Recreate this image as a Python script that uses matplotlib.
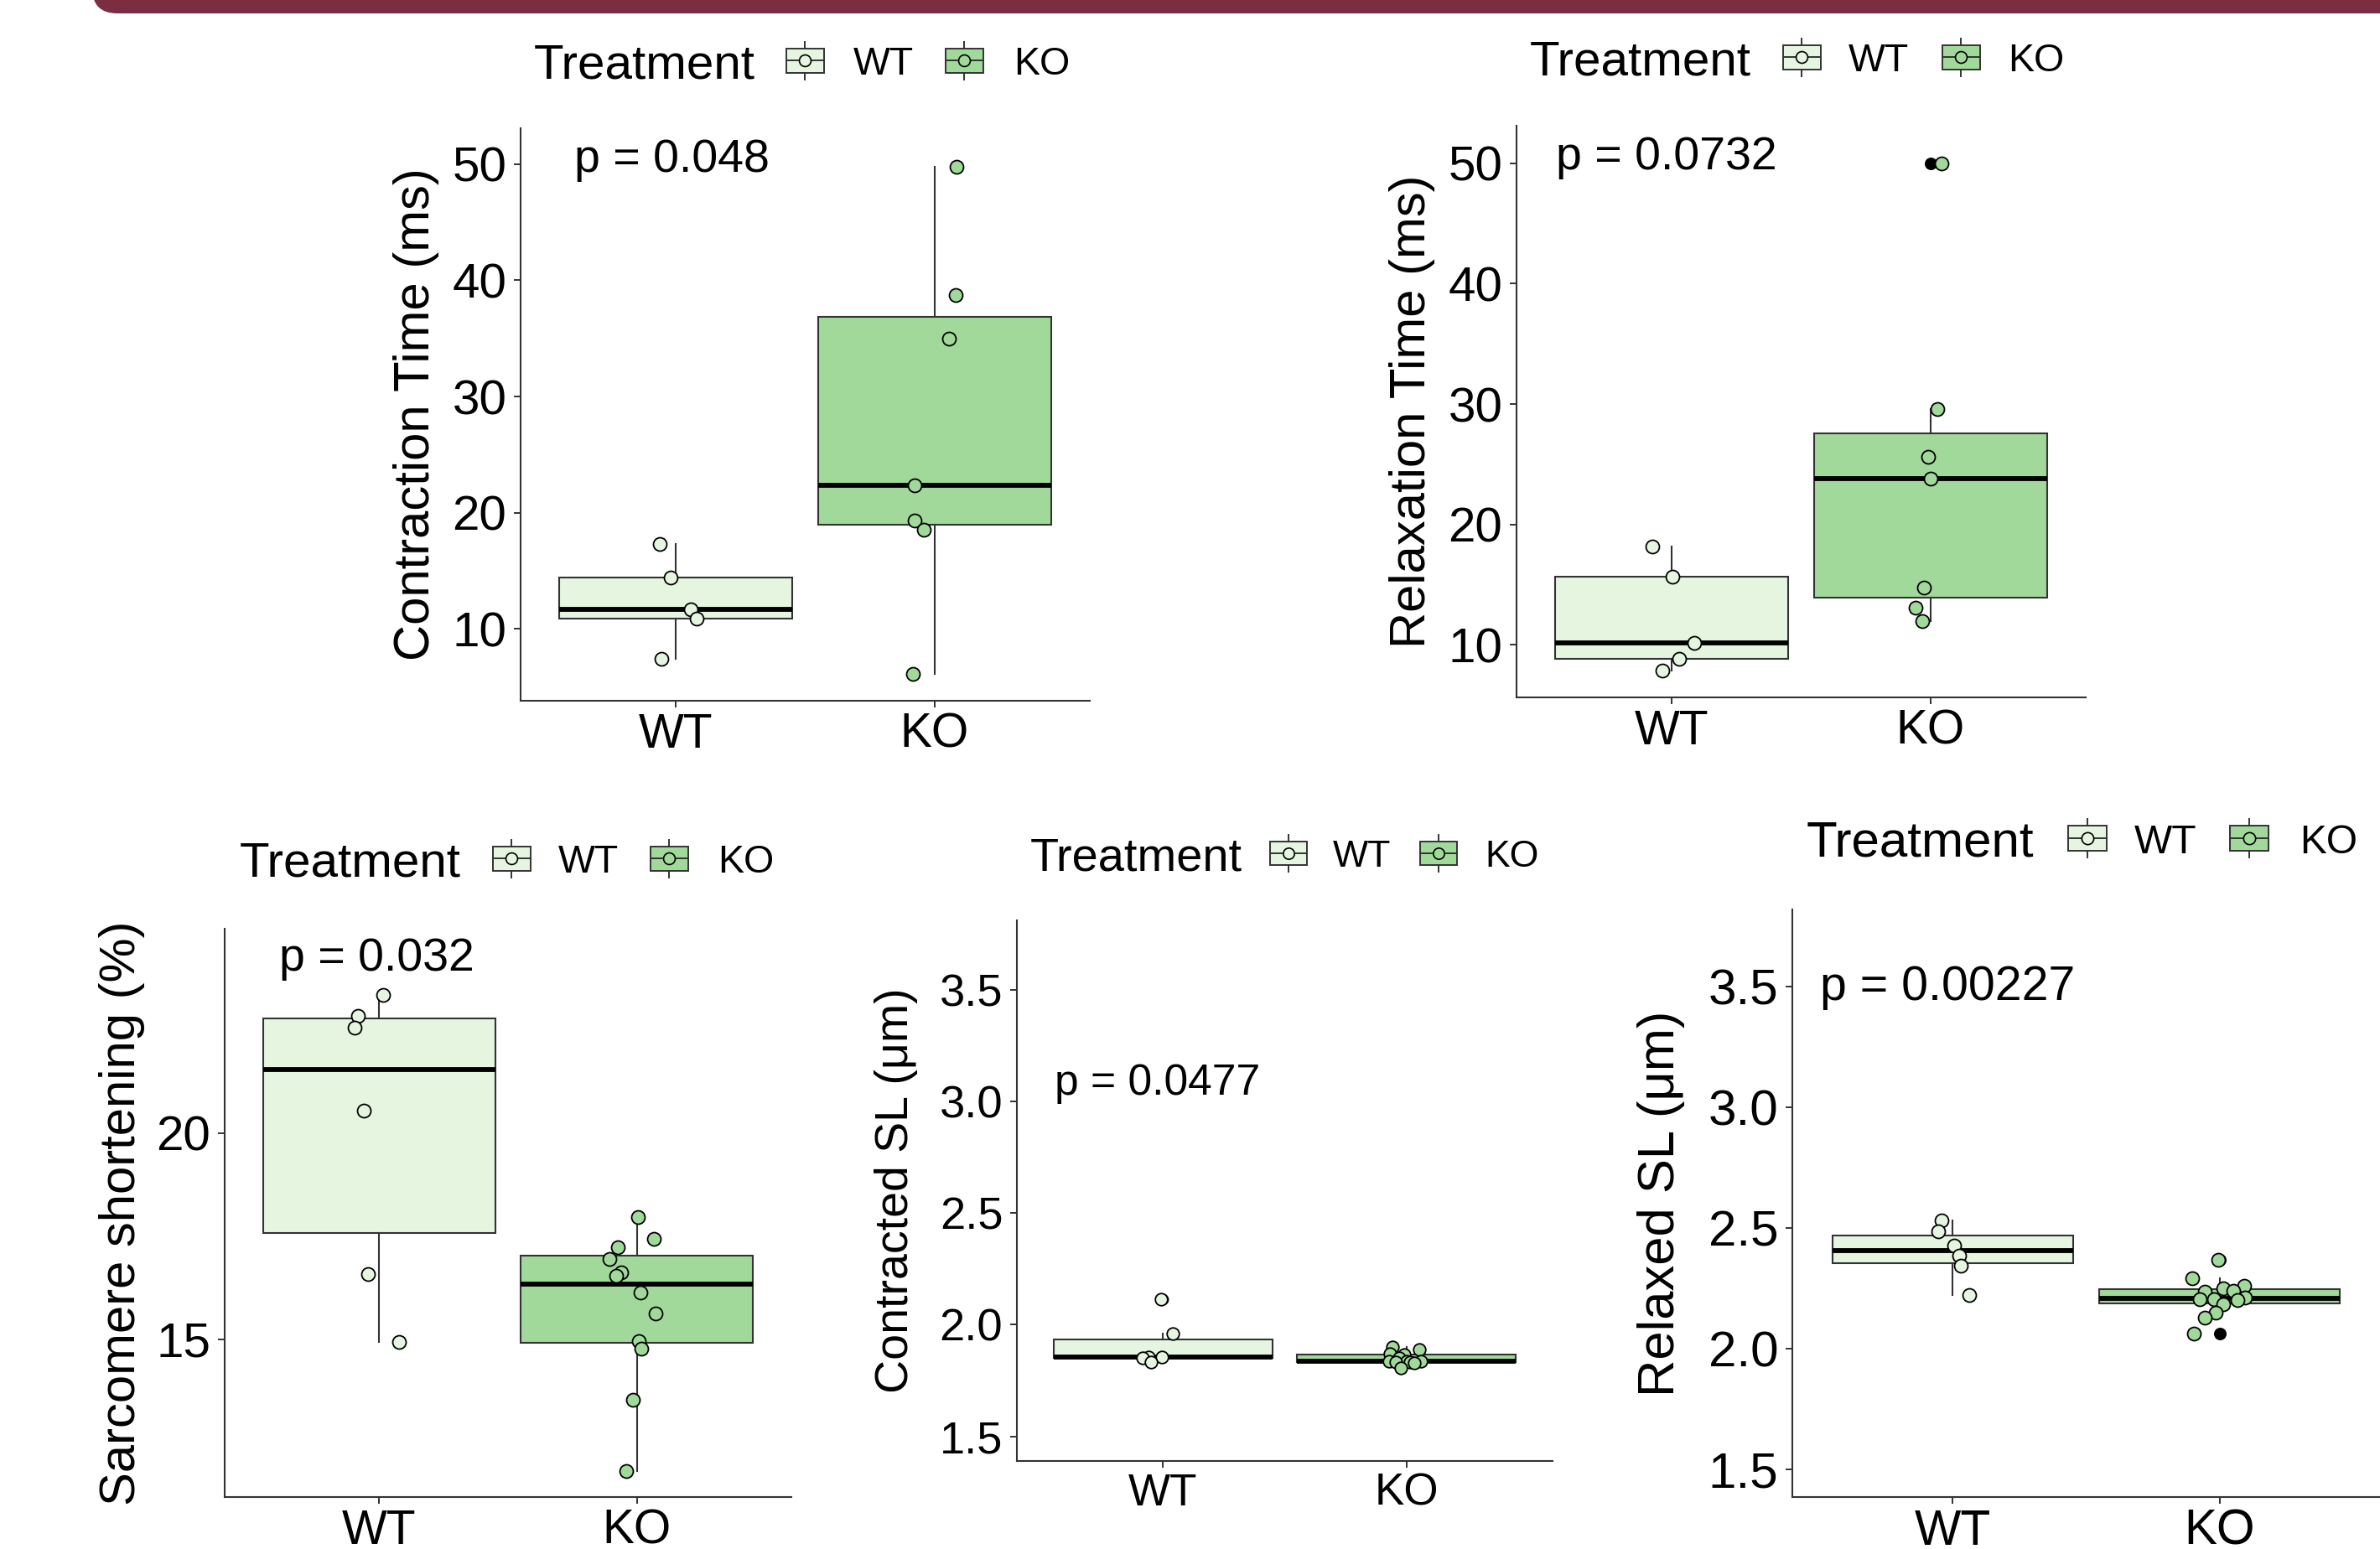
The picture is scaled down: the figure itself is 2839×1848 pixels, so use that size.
import matplotlib
matplotlib.use("Agg")
import matplotlib.pyplot as plt
from matplotlib.patches import Rectangle, FancyBboxPatch

plt.rcParams['font.family'] = ['Liberation Sans', 'DejaVu Sans']

W, H = 2839, 1848

# ---- values ----
groups = ["WT", "KO"]
fills = ["#e5f5e0", "#a1d99b"]

# contraction time (ms)
ct_wt = [17.3, 14.4, 11.7, 10.9, 7.4]
ct_ko = [49.8, 38.7, 35.0, 22.35, 19.3, 18.55, 6.1]
ct_wt_jit = [-0.063, -0.02, 0.059, 0.079, -0.057]
ct_ko_jit = [0.084, 0.08, 0.055, -0.077, -0.077, -0.043, -0.083]

# relaxation time (ms)
rt_wt = [18.14, 15.7, 10.2, 8.87, 7.86]
rt_ko = [50.0, 29.6, 25.6, 23.8, 14.76, 13.1, 12.0]
rt_wt_jit = [-0.075, 0.004, 0.086, 0.027, -0.037]
rt_ko_jit = [0.043, 0.025, -0.01, 0.002, -0.025, -0.057, -0.031]

# sarcomere shortening (%)
ss_wt = [23.34, 22.84, 22.55, 20.54, 16.58, 14.93]
ss_ko = [17.96, 17.44, 17.23, 16.95, 16.63, 16.54, 16.14, 15.62, 14.95, 14.78, 13.53, 11.81]
ss_wt_jit = [0.015, -0.082, -0.095, -0.061, -0.043, 0.078]
ss_ko_jit = [0.004, 0.067, -0.073, -0.106, -0.06, -0.08, 0.015, 0.074, 0.009, 0.017, -0.015, -0.041]

# contracted SL (um)
csl_wt = [2.115, 1.962, 1.857, 1.856, 1.852, 1.834]
csl_ko = [1.900, 1.889, 1.872, 1.866, 1.852, 1.837, 1.836, 1.835, 1.834, 1.832, 1.828, 1.805]
csl_wt_jit = [-0.009, 0.042, -0.003, -0.06, -0.083, -0.049]
csl_ko_jit = [-0.058, 0.053, -0.068, -0.009, -0.029, 0.002, 0.061, -0.07, -0.043, 0.014, 0.031, -0.023]

# relaxed SL (um)
rsl_wt = [2.531, 2.485, 2.427, 2.384, 2.345, 2.221]
rsl_ko = [2.368, 2.290, 2.262, 2.250, 2.240, 2.237, 2.210, 2.206, 2.204, 2.200, 2.183, 2.148, 2.130, 2.064]
rsl_wt_jit = [-0.042, -0.053, 0.005, 0.023, 0.031, 0.062]
rsl_ko_jit = [-0.005, -0.102, 0.091, 0.014, 0.052, -0.055, 0.094, -0.021, -0.076, 0.065, 0.014, -0.016, -0.055, -0.096]

p_labels = ["p = 0.048", "p = 0.0732", "p = 0.032", "p = 0.0477", "p = 0.00227"]
y_titles = ["Contraction Time (ms)", "Relaxation Time (ms)", "Sarcomere shortening (%)",
            "Contracted SL (\u03bcm)", "Relaxed SL (\u03bcm)"]

fig = plt.figure(figsize=(W / 100, H / 100), dpi=100)

# overlay in pixel coords for banner, legends, labels
ov = fig.add_axes([0, 0, 1, 1], zorder=5)
ov.set_xlim(0, W)
ov.set_ylim(H, 0)
ov.axis("off")

ov.add_patch(FancyBboxPatch((110, -80), 2850, 96, boxstyle="round,pad=0,rounding_size=30",
                            fc="#7b2e41", ec="none"))


def panel(box, wt, ko, wt_j, ko_j, ylim, yticks, ytl, title, title_x, ptxt, pxy, s, msz):
    l, t, r, b = box
    ax = fig.add_axes([l / W, 1 - b / H, (r - l) / W, (b - t) / H])
    for i, (v, jit, c) in enumerate(zip([wt, ko], [wt_j, ko_j], fills)):
        pos = i + 1
        ax.boxplot(v, positions=[pos], widths=0.9, patch_artist=True, showcaps=False,
                   boxprops=dict(facecolor=c, edgecolor="#333333", linewidth=1.5),
                   whiskerprops=dict(color="#333333", linewidth=1.5),
                   medianprops=dict(color="black", linewidth=4.2),
                   flierprops=dict(marker="o", markerfacecolor="black",
                                   markeredgecolor="black", markersize=msz * 0.85))
        ax.scatter([pos + d for d in jit], v, s=msz ** 2, c=c, edgecolors="black",
                   linewidths=1.3, zorder=4)
    ax.set_xlim(0.4, 2.6)
    ax.set_ylim(*ylim)
    ax.set_xticks([1, 2])
    ax.set_xticklabels(groups)
    ax.set_yticks(yticks)
    ax.set_yticklabels(ytl)
    for sp in ["top", "right"]:
        ax.spines[sp].set_visible(False)
    for sp in ["left", "bottom"]:
        ax.spines[sp].set_color("#333333")
        ax.spines[sp].set_linewidth(1.5)
    ax.tick_params(axis="y", length=6, width=1.4, color="#333333", labelsize=42 * s, pad=6)
    ax.tick_params(axis="x", length=6, width=1.4, color="#333333", labelsize=41 * s, pad=4)
    ax.patch.set_alpha(0)
    ov.text(title_x, (t + b) / 2, title, rotation=90, ha="center", va="center", fontsize=43 * s)
    ov.text(pxy[0], pxy[1], ptxt, ha="left", va="baseline", fontsize=40 * s)
    return ax


def legend(yc, tx, k1, l1, k2, l2, s):
    ov.text(tx, yc + 21 * s, "Treatment", fontsize=42 * s, va="baseline", ha="left")
    for kx, lx, lab, c in zip((k1, k2), (l1, l2), groups, fills):
        bw, bh, wl = 45 * s, 29 * s, 8 * s
        ov.add_patch(Rectangle((kx - bw / 2, yc - bh / 2), bw, bh, fc=c, ec="#333333", lw=1.4))
        ov.plot([kx, kx], [yc - bh / 2 - wl, yc - bh / 2], color="#333333", lw=1.4)
        ov.plot([kx, kx], [yc + bh / 2, yc + bh / 2 + wl], color="#333333", lw=1.4)
        ov.plot([kx - bw / 2, kx + bw / 2], [yc, yc], color="#333333", lw=1.4)
        ov.plot([kx], [yc], "o", ms=10 * s, mfc=c, mec="black", mew=1.2)
        ov.text(lx, yc + 17 * s, lab, fontsize=33.5 * s, va="baseline", ha="left")


t10 = [10, 20, 30, 40, 50]
tsl = [1.5, 2.0, 2.5, 3.0, 3.5]
tsl_lab = ["1.5", "2.0", "2.5", "3.0", "3.5"]

panel((621, 153, 1300, 836), ct_wt, ct_ko, ct_wt_jit, ct_ko_jit, (3.8, 53.1), t10,
      [str(v) for v in t10], y_titles[0], 497, p_labels[0], (685, 205), 1.0, 11.5)
panel((1809, 150, 2488, 832), rt_wt, rt_ko, rt_wt_jit, rt_ko_jit, (5.65, 53.1), t10,
      [str(v) for v in t10], y_titles[1], 1685, p_labels[1], (1856, 202), 1.0, 11.5)
panel((268, 1108, 944, 1786), ss_wt, ss_ko, ss_wt_jit, ss_ko_jit, (11.18, 24.95), [15, 20],
      ["15", "20"], y_titles[2], 146, p_labels[2], (333, 1158), 1.0, 11.5)
panel((1213, 1098, 1852, 1743), csl_wt, csl_ko, csl_wt_jit, csl_ko_jit, (1.39, 3.81), tsl,
      tsl_lab, y_titles[3], 1069, p_labels[3], (1258, 1306), 0.93, 10.5)
panel((2138, 1085, 2839, 1786), rsl_wt, rsl_ko, rsl_wt_jit, rsl_ko_jit, (1.385, 3.82), tsl,
      tsl_lab, y_titles[4], 1981, p_labels[4], (2171, 1193), 1.03, 11.5)

legend(72, 637, 960, 1018, 1150, 1209, 1.0)
legend(68, 1825, 2149, 2205, 2339, 2395, 1.0)
legend(1024, 286, 610, 666, 798, 856, 1.0)
legend(1018, 1229, 1537, 1590, 1716, 1771, 0.96)
legend(1000, 2155, 2490, 2546, 2683, 2743, 1.03)

fig.savefig("out.png", dpi=100)
